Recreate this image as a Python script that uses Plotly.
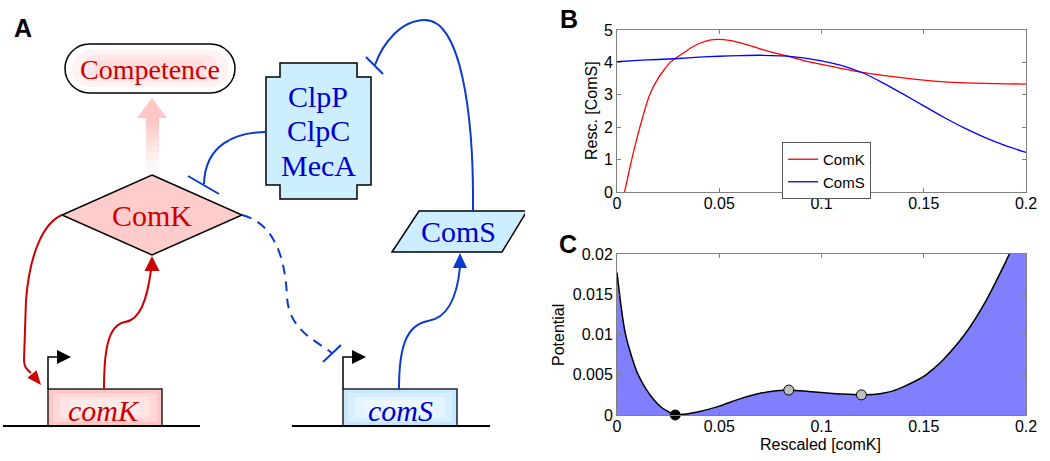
import plotly.graph_objects as go

# ---------------- data ----------------
# Panel B: rescaled nullclines
comk_x = [0.0037, 0.0072, 0.0112, 0.0160, 0.0200, 0.0260, 0.0326, 0.0375, 0.043, 0.049,
          0.055, 0.060, 0.065, 0.070, 0.076, 0.083, 0.090, 0.100, 0.110, 0.120, 0.130,
          0.140, 0.150, 0.160, 0.170, 0.180, 0.190, 0.200]
comk_y = [0.0, 1.0, 2.0, 3.0, 3.5, 4.0, 4.3, 4.5, 4.65, 4.71,
          4.68, 4.61, 4.52, 4.42, 4.31, 4.2, 4.08, 3.94, 3.81, 3.69, 3.6,
          3.52, 3.45, 3.40, 3.37, 3.35, 3.34, 3.33]
coms_x = [0.0, 0.01, 0.02, 0.03, 0.04, 0.05, 0.06, 0.07, 0.08, 0.09, 0.10,
          0.11, 0.12, 0.13, 0.14, 0.15, 0.16, 0.17, 0.18, 0.19, 0.20]
coms_y = [4.02, 4.06, 4.09, 4.12, 4.16, 4.19, 4.21, 4.22, 4.20, 4.15, 4.05,
          3.90, 3.68, 3.37, 3.02, 2.66, 2.30, 1.97, 1.68, 1.43, 1.22]

# Panel C: potential landscape
pot_x = [0.0, 0.002, 0.004, 0.007, 0.010, 0.014, 0.018, 0.022, 0.026, 0.0285, 0.033,
         0.040, 0.050, 0.060, 0.070, 0.078, 0.084, 0.090, 0.100, 0.110, 0.1195, 0.125,
         0.130, 0.135, 0.140, 0.145, 0.150, 0.155, 0.160, 0.170, 0.180, 0.190, 0.200]
pot_y = [0.0177, 0.0135, 0.0102, 0.0074, 0.0052, 0.0033, 0.0019, 0.0009, 0.0003, 0.0, 0.0001,
         0.0004, 0.0011, 0.0020, 0.0027, 0.0030, 0.0031, 0.0030, 0.0028, 0.0026, 0.0025, 0.00255,
         0.0027, 0.0030, 0.0035, 0.0041, 0.0048, 0.0058, 0.0070, 0.0100, 0.0140, 0.0190, 0.0245]
stable_x = [0.0285]
stable_y = [0.0]
unstable_x = [0.084, 0.1195]
unstable_y = [0.0031, 0.0025]

b_xticks = [0, 0.05, 0.1, 0.15, 0.2]
b_xlabels = ["0", "0.05", "0.1", "0.15", "0.2"]
b_yticks = [0, 1, 2, 3, 4, 5]
c_yticks = [0, 0.005, 0.01, 0.015, 0.02]
c_ylabels = ["0", "0.005", "0.01", "0.015", "0.02"]

W, H = 1050, 461
SANS = "Liberation Sans, Arial, sans-serif"
SERIF = "Liberation Serif, Times New Roman, serif"
RED = "#CC0000"
BLUE_T = "#0000CC"
BLUE_L = "#0A3BCC"
AX = "#808080"

fig = go.Figure()

fig.add_trace(go.Scatter(x=comk_x, y=comk_y, mode="lines", name="ComK",
                         line=dict(color="#FF0000", width=1.3, shape="spline", smoothing=0.6),
                         xaxis="x", yaxis="y"))
fig.add_trace(go.Scatter(x=coms_x, y=coms_y, mode="lines", name="ComS",
                         line=dict(color="#0000FF", width=1.3, shape="spline", smoothing=0.6),
                         xaxis="x", yaxis="y"))
fig.add_trace(go.Scatter(x=pot_x, y=pot_y, mode="lines", fill="tozeroy", fillcolor="#8080FF",
                         line=dict(color="black", width=1.5, shape="spline", smoothing=0.6),
                         xaxis="x2", yaxis="y2", showlegend=False))
fig.add_trace(go.Scatter(x=stable_x, y=stable_y, mode="markers", cliponaxis=False,
                         marker=dict(size=10, color="black", line=dict(color="black", width=1)),
                         xaxis="x2", yaxis="y2", showlegend=False))
fig.add_trace(go.Scatter(x=unstable_x, y=unstable_y, mode="markers", cliponaxis=False,
                         marker=dict(size=10, color="#C0C0C0", line=dict(color="black", width=1)),
                         xaxis="x2", yaxis="y2", showlegend=False))
# invisible trace to host the diagram coordinate system (pixel units)
fig.add_trace(go.Scatter(x=[], y=[], xaxis="x3", yaxis="y3", showlegend=False, hoverinfo="skip"))

xd = [617 / W, 1026 / W]
common = dict(showgrid=False, zeroline=False, showline=True, linecolor=AX, linewidth=1,
              mirror="ticks", ticks="inside", ticklen=4, tickcolor=AX, automargin=False,
              tickfont=dict(family=SANS, size=16, color="black"))
fig.update_layout(
    xaxis=dict(domain=xd, range=[0, 0.2], tickvals=b_xticks, ticktext=b_xlabels, anchor="y",
               ticklabelstandoff=-3, **common),
    yaxis=dict(domain=[1 - 192 / H, 1 - 30 / H], range=[0, 5], tickvals=b_yticks, anchor="x", **common),
    xaxis2=dict(domain=xd, range=[0, 0.2], tickvals=b_xticks, ticktext=b_xlabels, anchor="y2",
                ticklabelstandoff=-3, **common),
    yaxis2=dict(domain=[1 - 415 / H, 1 - 254 / H], range=[0, 0.02], tickvals=c_yticks,
                ticktext=c_ylabels, anchor="x2", **common),
    xaxis3=dict(domain=[0, 0.5], range=[0, 525], visible=False, anchor="y3", fixedrange=True,
                automargin=False, showticklabels=False),
    yaxis3=dict(domain=[0, 1], range=[461, 0], visible=False, anchor="x3", fixedrange=True,
                automargin=False, showticklabels=False),
)


def poly(pts):
    return "M " + " L ".join(f"{x},{y}" for x, y in pts) + " Z"


def rounded(x0, y0, x1, y1, r):
    k = 0.55 * r
    return (f"M {x0 + r},{y0} L {x1 - r},{y0} C {x1 - r + k},{y0} {x1},{y0 + r - k} {x1},{y0 + r} "
            f"L {x1},{y1 - r} C {x1},{y1 - r + k} {x1 - r + k},{y1} {x1 - r},{y1} "
            f"L {x0 + r},{y1} C {x0 + r - k},{y1} {x0},{y1 - r + k} {x0},{y1 - r} "
            f"L {x0},{y0 + r} C {x0},{y0 + r - k} {x0 + r - k},{y0} {x0 + r},{y0} Z")


shapes = []


def P(path, fill=None, line=None, width=0, dash=None, opacity=1.0):
    s = dict(type="path", path=path, xref="x3", yref="y3", opacity=opacity)
    s["fillcolor"] = fill if fill else "rgba(0,0,0,0)"
    ld = dict(width=width, color=line if line else "rgba(0,0,0,0)")
    if dash:
        ld["dash"] = dash
    s["line"] = ld
    shapes.append(s)


# Competence box with pink glow
P(rounded(65, 44, 235, 93, 24.5), fill="white", line="black", width=1.5)
P(rounded(72, 50, 228, 87, 18), fill="rgba(255,190,190,0.20)")
P(rounded(82, 55, 218, 82, 13), fill="rgba(255,190,190,0.22)")
P(rounded(95, 59, 205, 78, 9), fill="rgba(255,190,190,0.22)")

# pink fading arrow ComK -> Competence
P(poly([(152, 98), (137, 118), (167, 118)]), fill="#FFC6C6")
for i, op in enumerate([1.0, 0.85, 0.7, 0.55, 0.4, 0.27, 0.15, 0.07]):
    y0 = 118 + i * 7
    P(poly([(146, y0), (159, y0), (159, y0 + 7), (146, y0 + 7)]), fill="#FFC6C6", opacity=op)

# ComK diamond
P(poly([(152, 175), (242, 215), (152, 255), (62, 215)]), fill="#FFCCCC", line="black", width=1.5)

# ClpP/ClpC/MecA box
P(poly([(280, 63), (357, 63), (357, 77), (371, 77), (371, 185), (357, 185), (357, 199),
        (280, 199), (280, 185), (266, 185), (266, 77), (280, 77)]),
  fill="#CCEEFF", line="black", width=1.5)

# ComS parallelogram
P(poly([(419, 211), (527, 211), (502, 252), (392, 252)]), fill="#CCEEFF", line="black", width=1.5)

# gene boxes with soft centre
for (gx0, gx1), base in [((48, 162), "#FFC6C6"), ((343, 457), "#C6E8FF")]:
    P(poly([(gx0, 389), (gx1, 389), (gx1, 426), (gx0, 426)]), fill=base)
    P(poly([(gx0 + 5, 393), (gx1 - 5, 393), (gx1 - 5, 422), (gx0 + 5, 422)]), fill="rgba(255,255,255,0.3)")
    P(poly([(gx0 + 12, 397), (gx1 - 12, 397), (gx1 - 12, 418), (gx0 + 12, 418)]), fill="rgba(255,255,255,0.3)")
    P(poly([(gx0 + 22, 400), (gx1 - 22, 400), (gx1 - 22, 415), (gx0 + 22, 415)]), fill="rgba(255,255,255,0.25)")
    P(f"M {gx0},426 L {gx0},389 L {gx1},389 L {gx1},426", line="#222", width=1.5)

# DNA baselines
P("M 3,426 L 200,426", line="black", width=2)
P("M 292,426 L 490,426", line="black", width=2)

# promoters
for px in [48, 343]:
    P(f"M {px},389 L {px},357 L {px + 10},357", line="black", width=1.5)
    P(poly([(px + 9, 350), (px + 23, 357), (px + 9, 364)]), fill="black")

# red arrows
P("M 62,215 C 45,222 30,250 26,300 L 24,360 C 24,366 26,369 31,373", line=RED, width=2)
P(poly([(41, 385), (27.4, 377.8), (36.6, 370.2)]), fill=RED)
P("M 104,389 C 104,350 108,325 125,322 C 140,320 147,300 151,270", line=RED, width=2)
P(poly([(152, 256), (144.5, 271), (159.5, 271)]), fill=RED)

# blue arrows / repression
P("M 399,389 C 399,350 405,325 428,321 C 448,318 457,298 460,267", line=BLUE_L, width=2)
P(poly([(460, 253), (453, 268), (467, 268)]), fill=BLUE_L)
P("M 473,211 C 474,110 460,20 425,20 C 400,20 382,45 375,65", line=BLUE_L, width=2)
P("M 366,57 L 383,74", line=BLUE_L, width=2)
P("M 266,132 C 235,132 205,145 204,184", line=BLUE_L, width=2)
P("M 188,176 L 219,194", line=BLUE_L, width=2)
P("M 242,215 C 270,222 285,250 287,297 C 289,330 315,340 332,353", line=BLUE_L, width=2,
  dash="10px,7px")
P("M 323,362 L 341,345", line=BLUE_L, width=2)

fig.update_layout(shapes=shapes)

ann = []


def T(x, y, text, size, color, family, ref="x3", **kw):
    d = dict(x=x, y=y, text=text, showarrow=False, xanchor="center", yanchor="middle",
             font=dict(family=family, size=size, color=color))
    if ref == "x3":
        d.update(xref="x3", yref="y3")
    else:
        d.update(xref="paper", yref="paper")
    d.update(kw)
    ann.append(d)


T(150, 69, "Competence", 28, RED, SERIF)
T(152, 215, "ComK", 30, RED, SERIF)
T(318, 96, "ClpP", 30, BLUE_T, SERIF)
T(318, 130, "ClpC", 30, BLUE_T, SERIF)
T(318, 165, "MecA", 30, BLUE_T, SERIF)
T(458, 231, "ComS", 30, BLUE_T, SERIF)
T(104, 410, "<i>comK</i>", 30, RED, SERIF)
T(400, 410, "<i>comS</i>", 30, BLUE_T, SERIF)

T(23, 28, "<b>A</b>", 25, "black", SANS)
T(569 / W, 1 - 19 / H, "<b>B</b>", 25, "black", SANS, ref="paper")
T(568 / W, 1 - 244 / H, "<b>C</b>", 25, "black", SANS, ref="paper")
T(592 / W, 1 - 111 / H, "Resc. [ComS]", 16, "black", SANS, ref="paper", textangle=-90)
T(558 / W, 1 - 335 / H, "Potential", 16, "black", SANS, ref="paper", textangle=-90)
T(820 / W, 1 - 444 / H, "Rescaled [comK]", 16, "black", SANS, ref="paper")

fig.update_layout(
    annotations=ann,
    width=W, height=H,
    margin=dict(l=0, r=0, t=0, b=0, pad=0, autoexpand=False),
    paper_bgcolor="white",
    plot_bgcolor="rgba(0,0,0,0)",
    font=dict(family=SANS, size=16, color="black"),
    legend=dict(x=782 / W, y=1 - 142 / H, xanchor="left", yanchor="top",
                bgcolor="white", bordercolor="#555", borderwidth=1,
                font=dict(family=SANS, size=15, color="black"),
                itemwidth=30, tracegroupgap=0),
    showlegend=True,
)

fig.write_html("out.html", config={"displayModeBar": False},
               post_script="document.body.style.margin='0';")
